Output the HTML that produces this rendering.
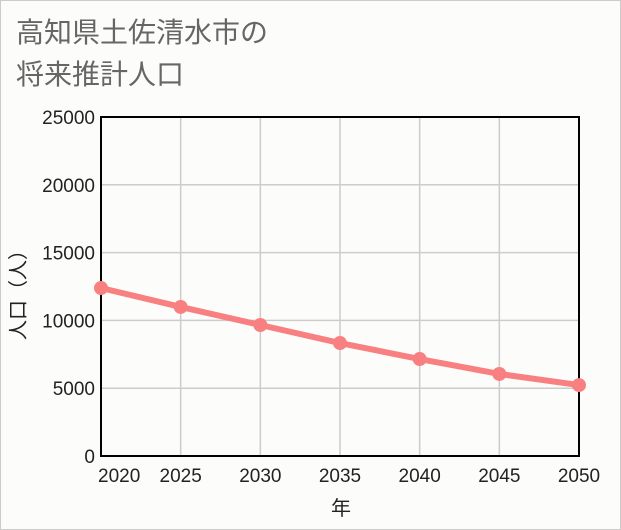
<!DOCTYPE html>
<html><head><meta charset="utf-8"><style>
html,body{margin:0;padding:0;}
body{width:621px;height:530px;background:#fcfdfb;position:relative;overflow:hidden;font-family:"Liberation Sans","Noto Sans CJK JP",sans-serif;}
#frame{position:absolute;left:0;top:0;width:619px;height:528px;border:1px solid #ccc;}
#title{position:absolute;left:16px;top:12px;font-size:28px;line-height:42px;color:#666;}
svg{position:absolute;left:0;top:0;}
</style></head><body>
<div id="frame"></div>
<div id="title">高知県土佐清水市の<br>将来推計人口</div>
<svg id="chart" width="621" height="530"></svg>
<script>
const years=[2020,2025,2030,2035,2040,2045,2050];
const population=[12390,10990,9660,8330,7150,6050,5230];
const yTicks=[0,5000,10000,15000,20000,25000];
const NS="http://www.w3.org/2000/svg";
const svg=document.getElementById('chart');
const L=101,R=579,T=117,B=456;
const xs=v=>L+(v-2020)/30*(R-L);
const ys=v=>B-v/25000*(B-T);
function mk(t,a,p){const e=document.createElementNS(NS,t);for(const k in a)e.setAttribute(k,a[k]);(p||svg).appendChild(e);return e;}
const grid=mk('g',{});


yTicks.forEach(v=>{
  mk('line',{x1:L,x2:R,y1:ys(v),y2:ys(v),stroke:'#ccc','stroke-width':1.5},grid);
  const t=mk('text',{x:L-6,y:ys(v)+7,'text-anchor':'end','font-size':19,fill:'#222'});
  
  
  t.textContent=v;
});
years.forEach((y,i)=>{
  mk('line',{x1:xs(y),x2:xs(y),y1:T,y2:B,stroke:'#ccc','stroke-width':1.5},grid);
  const t=mk('text',{x:i===0?L-3:xs(y),y:482,'text-anchor':i===0?'start':'middle','font-size':19,fill:'#222'});
  
  
  t.textContent=y;
});
const ax=mk('rect',{x:L,y:T,width:R-L,height:B-T,fill:'none',stroke:'#000','stroke-width':2});


const line=mk('polyline',{points:years.map((y,i)=>xs(y)+','+ys(population[i])).join(' '),fill:'none',stroke:'#f88080','stroke-width':6,'stroke-linejoin':'round'});


years.forEach((y,i)=>{
  const c=mk('circle',{cx:xs(y),cy:ys(population[i]),r:7,fill:'#f88080'});
  
  
});
const xt=mk('text',{x:341,y:515,'text-anchor':'middle','font-size':20,fill:'#222'});


xt.textContent='年';
const yt=mk('text',{x:0,y:0,'text-anchor':'middle','font-size':20,fill:'#222',transform:'translate(25,290) rotate(-90)'});


yt.textContent='人口（人）';
</script>
</body></html>
